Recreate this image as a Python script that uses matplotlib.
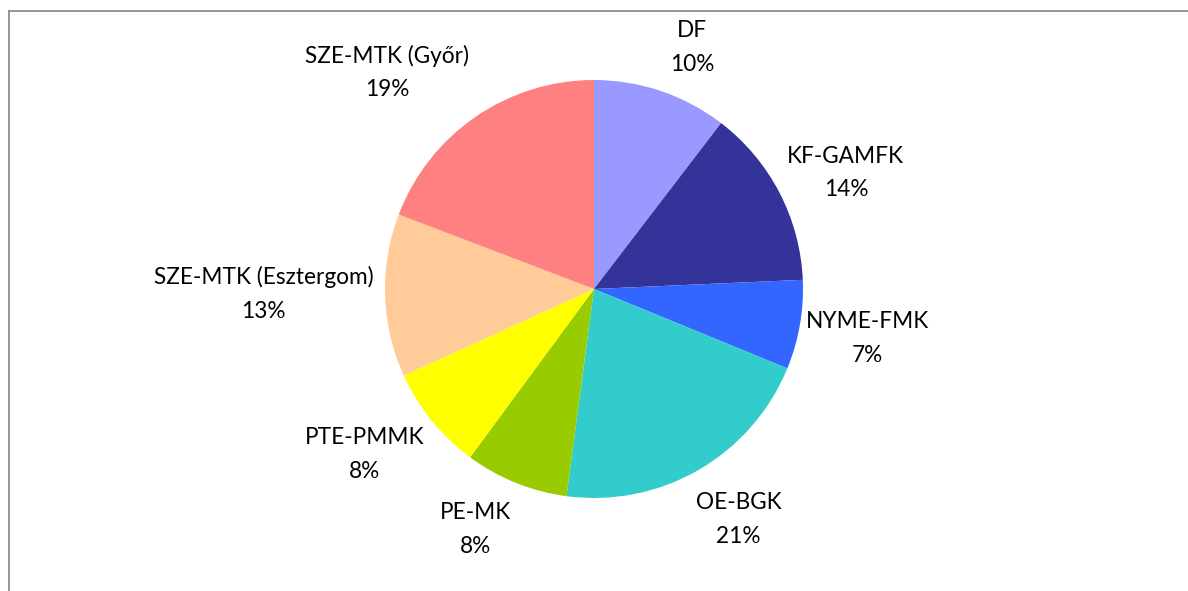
import numpy as np
import matplotlib
matplotlib.use("Agg")
import matplotlib.pyplot as plt
from matplotlib.lines import Line2D

plt.rcParams['font.family'] = ['Lato', 'DejaVu Sans']

# Data (share of students, %)
labels = ["DF", "KF-GAMFK", "NYME-FMK", "OE-BGK", "PE-MK", "PTE-PMMK",
          "SZE-MTK (Esztergom)", "SZE-MTK (Győr)"]
shares = [10.4, 13.9, 6.9, 20.9, 8.0, 8.1, 12.6, 19.2]
colors = ["#9999FF", "#333399", "#3366FF", "#33CCCC", "#99CC00", "#FFFF00",
          "#FFCC99", "#FF8080"]

# small pixel nudges so labels sit where Excel put them (dx right, dy down)
label_nudge = [(18, 0), (-2, 2), (-12, 6), (9, 10), (-20, 4), (-6, 5),
               (7, -3), (-31, -6)]

W, H, DPI = 1188, 591, 100
fig = plt.figure(figsize=(W / DPI, H / DPI), dpi=DPI)

# pie centre at (594, 289) px, radius 209 px
R, cx, cy = 209.0, 594.0, 289.0
ax = fig.add_axes([0, 0, 1, 1])
ax.axis("off")

wedges, _ = ax.pie(shares, colors=colors, startangle=90, counterclock=False,
                   radius=1.0, wedgeprops=dict(linewidth=0))
ax.set_xlim(-cx / R, (W - cx) / R)
ax.set_ylim(-(H - cy) / R, cy / R)

# Excel-like outside-end labels
total = sum(shares)
renderer = fig.canvas.get_renderer()
gap = 1.09
for w, lab, val, (nx, ny) in zip(wedges, labels, shares, label_nudge):
    ang = np.deg2rad((w.theta1 + w.theta2) / 2)
    txt = ax.text(0, 0, f"{lab}\n{round(val / total * 100):.0f}%",
                  ha="center", va="center", fontsize=16.3, linespacing=1.75,
                  color="black")
    bb = txt.get_window_extent(renderer)
    tw, th = bb.width / R, bb.height / R
    px, py = gap * np.cos(ang), gap * np.sin(ang)
    txt.set_position((px + np.cos(ang) * tw / 2 + nx / R,
                      py + np.sin(ang) * th / 2 - ny / R))

# chart area border (only top and left edges are inside the image)
fig.add_artist(Line2D([8.5 / W, 1.0], [1 - 10.5 / H] * 2, color="#8c8c8c", lw=1.3))
fig.add_artist(Line2D([8.5 / W] * 2, [0, 1 - 10.5 / H], color="#8c8c8c", lw=1.3))

fig.savefig("out.png", dpi=DPI)
